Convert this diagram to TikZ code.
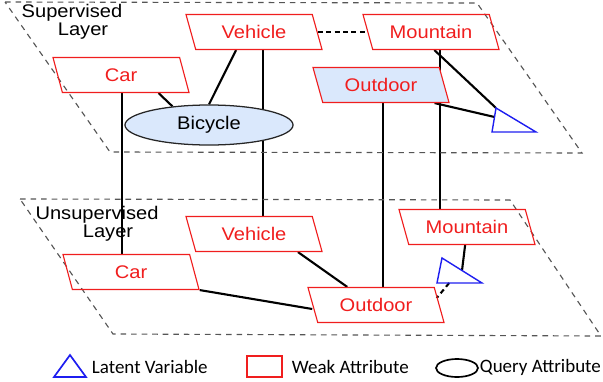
\documentclass[tikz,border=0pt]{standalone}
\usepackage{fontspec}
\setmainfont[FakeStretch=1.1]{Liberation Sans}
\newfontfamily\legendfont{Carlito}
\usetikzlibrary{shapes.geometric,calc,backgrounds}
\definecolor{attred}{RGB}{240,30,30}
\definecolor{querybg}{RGB}{218,232,252}
\definecolor{latentblue}{RGB}{30,30,240}
\definecolor{planegray}{RGB}{85,85,85}

\tikzset{
  weakattr/.style={trapezium, trapezium left angle=126, trapezium right angle=54,
    trapezium stretches body, draw=attred, line width=0.8pt, text=attred,
    minimum width=3.4cm, minimum height=0.875cm, inner sep=0pt,
    font=\fontsize{13}{15}\selectfont},
  queryattr/.style={ellipse, draw=black!85, fill=querybg, line width=0.9pt,
    minimum width=4.2cm, minimum height=1.0cm, inner sep=0pt,
    font=\fontsize{13}{15}\selectfont},
  latent/.style={draw=latentblue, line width=1pt},
  plane/.style={draw=planegray, line width=0.8pt, dash pattern=on 4pt off 3.5pt},
  link/.style={line width=1.5pt},
  softlink/.style={line width=1.5pt, dash pattern=on 3.5pt off 2.5pt},
  layerlabel/.style={align=center, font=\fontsize{13}{11.5}\selectfont},
  keytext/.style={anchor=west, font=\legendfont\fontsize{13.5}{15}\selectfont},
}

\begin{document}
\begin{tikzpicture}[x=0.025cm,y=-0.025cm]
  \useasboundingbox (0,0) rectangle (603,381);

  % --- the two layers ---
  \draw[plane] (5,2) -- (477,3) -- (582,153) -- (110,152) -- cycle;
  \draw[plane] (20,199) -- (510,200) -- (601,336) -- (113,334) -- cycle;
  \node[layerlabel] (suplabel) at (72,22) {Supervised\\\hspace*{0.55cm}Layer};
  \node[layerlabel] (unsuplabel) at (97,224) {Unsupervised\\\hspace*{0.55cm}Layer};

  % --- supervised layer ---
  \node[weakattr] (carU) at (121,75) {Car};
  \node[weakattr] (vehU) at (254,32) {Vehicle};
  \node[weakattr] (mtnU) at (431,32) {Mountain};
  \node[weakattr, fill=querybg] (outU) at (381,85) {Outdoor};
  \node[queryattr] (bike) at (209,125) {Bicycle};
  \coordinate (triUa) at (496,108);
  \coordinate (triUb) at (492,132);
  \coordinate (triUc) at (536,132);
  \draw[latent] (triUa) -- (triUb) -- (triUc) -- cycle;

  % --- unsupervised layer ---
  \node[weakattr] (carL) at (131,272) {Car};
  \node[weakattr] (vehL) at (254,234) {Vehicle};
  \node[weakattr] (mtnL) at (467,227) {Mountain};
  \node[weakattr] (outL) at (376,305) {Outdoor};
  \coordinate (triLa) at (442,258);
  \coordinate (triLb) at (437,283);
  \coordinate (triLc) at (482,283);
  \draw[latent] (triLa) -- (triLb) -- (triLc) -- cycle;

  % --- links ---
  \begin{scope}[on background layer]
    \draw[link] ([xshift=-0.78cm]carU.bottom right corner) -- (bike.153);
    \draw[link] ([xshift=1.02cm]vehU.bottom left corner) -- (bike.north);
    \draw[softlink] (vehU.east) -- (mtnU.west);
    \draw[link] ([xshift=1.55cm]mtnU.bottom left corner) -- (triUa);
    \draw[link] ([xshift=-0.38cm]outU.bottom right corner) -- ($(triUa)!0.375!(triUb)$);
    % between the layers
    \draw[link] ([xshift=0.03cm]carU.center |- carU.south) -- ([xshift=0.03cm]carU.center |- carL.north);
    \draw[link] ([xshift=0.23cm]vehU.center |- vehU.south) -- ([xshift=0.23cm]vehU.center |- vehL.north);
    \draw[link] ([xshift=0.05cm]outU.center |- outU.south) -- ([xshift=0.05cm]outU.center |- outL.north);
    \draw[link] ([xshift=0.23cm]mtnU.center |- mtnU.south) -- ([xshift=0.23cm]mtnU.center |- mtnL.north);
    % unsupervised links
    \draw[link] ([xshift=-0.62cm]vehL.bottom right corner) -- ([xshift=1.0cm]outL.top left corner);
    \draw[link] (carL.bottom right corner) -- ([yshift=-0.1cm]outL.west);
    \draw[link] ([xshift=1.42cm]mtnL.bottom left corner) -- ($(triLa)!0.5!(triLc)$);
    \draw[softlink] ($(triLb)!0.27!(triLc)$) -- ([xshift=-0.075cm,yshift=0.175cm]outL.east);
  \end{scope}

  % --- legend ---
  \draw[latent, line width=1.2pt] (54,377) -- (70,355) -- (86,377) -- cycle;
  \node[keytext] (latentkey) at (87,367) {Latent Variable};
  \draw[draw=attred, line width=1.2pt] (247,356) rectangle (282,377);
  \node[keytext] (weakkey) at (287,367) {Weak Attribute};
  \draw[line width=1.2pt] (457,368) ellipse [x radius=0.525cm, y radius=0.225cm];
  \node[keytext] (querykey) at (475,367) {Query Attribute};
\end{tikzpicture}
\end{document}
